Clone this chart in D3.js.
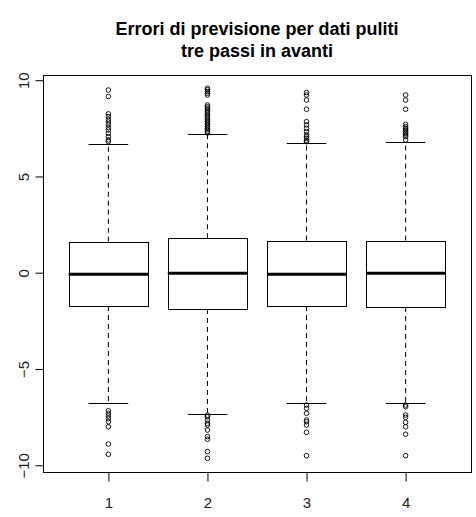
<!DOCTYPE html>
<html>
<head>
<meta charset="utf-8">
<script src="https://cdn.jsdelivr.net/npm/d3@7"></script>
<style>
  html, body { margin: 0; padding: 0; background: #fff; }
  svg { display: block; }
  text { font-family: "Liberation Sans", Arial, sans-serif; }
</style>
</head>
<body>
<svg id="chart" width="476" height="517"></svg>
<script>
// Forecast errors, three steps ahead, one box per model
const categories = ["1", "2", "3", "4"];
const q1 = [-1.73, -1.88, -1.73, -1.78];
const medians = [-0.08, -0.03, -0.08, -0.03];
const q3 = [1.61, 1.79, 1.67, 1.67];
const whiskerLow = [-6.78, -7.34, -6.78, -6.78];
const whiskerHigh = [6.67, 7.19, 6.72, 6.78];
const outliers = [
  [9.49, 9.15, 8.25, 8.11, 7.97, 7.83, 7.69, 7.55, 7.42, 7.24, 7.07, 6.90, 6.81,
   -7.17, -7.30, -7.44, -7.58, -7.74, -8.00, -8.90, -9.43],
  [9.58, 9.50, 9.41, 9.32, 9.23, 8.71, 8.62, 8.54, 8.45, 8.37, 8.28, 8.19, 8.10, 8.02,
   7.93, 7.85, 7.76, 7.68, 7.59, 7.50, 7.42, 7.33, 7.26,
   -7.40, -7.48, -7.65, -7.82, -7.91, -8.17, -8.51, -8.65, -9.29, -9.64],
  [9.36, 9.23, 8.97, 8.49, 7.85, 7.68, 7.50, 7.33, 7.16, 7.07, 6.98, 6.88, 6.81,
   -6.87, -7.04, -7.30, -7.65, -7.74, -7.91, -8.29, -9.50],
  [9.23, 8.97, 8.49, 7.71, 7.59, 7.50, 7.42, 7.33, 7.24, 7.16, 7.07, 6.90,
   -6.87, -6.96, -7.39, -7.51, -7.77, -8.00, -8.39, -9.50]
];
const yTicks = [-10, -5, 0, 5, 10];
const titleLines = ["Errori di previsione per dati puliti", "tre passi in avanti"];

const svg = d3.select("#chart");
const plot = { left: 43, right: 471, top: 75, bottom: 472 };

const x = d3.scaleLinear().domain([0.34, 4.66]).range([plot.left, plot.right]);
const y = d3.scaleLinear().domain([-10.35, 10.27]).range([plot.bottom, plot.top]);
const boxWidth = 0.8;   // in category units
const stapleWidth = 0.4;

// Title
svg.append("g").selectAll("text").data(titleLines).join("text")
  .attr("x", (plot.left + plot.right) / 2)
  .attr("y", (d, i) => 35 + i * 22)
  .attr("text-anchor", "middle")
  .attr("font-size", 18)
  .attr("font-weight", "bold")
  .attr("fill", "#000")
  .text(d => d);

const data = categories.map((c, i) => ({
  cat: c, pos: i + 1, q1: q1[i], med: medians[i], q3: q3[i],
  lo: whiskerLow[i], hi: whiskerHigh[i], out: outliers[i]
}));

const groups = svg.append("g").selectAll("g").data(data).join("g");

// Dashed whiskers
groups.append("line")
  .attr("x1", d => x(d.pos)).attr("x2", d => x(d.pos))
  .attr("y1", d => y(d.q3)).attr("y2", d => y(d.hi))
  .attr("stroke", "#000").attr("stroke-dasharray", "5,4");
groups.append("line")
  .attr("x1", d => x(d.pos)).attr("x2", d => x(d.pos))
  .attr("y1", d => y(d.q1)).attr("y2", d => y(d.lo))
  .attr("stroke", "#000").attr("stroke-dasharray", "5,4");

// Staples
["hi", "lo"].forEach(k => {
  groups.append("line")
    .attr("x1", d => x(d.pos - stapleWidth / 2)).attr("x2", d => x(d.pos + stapleWidth / 2))
    .attr("y1", d => Math.round(y(d[k])) + 0.5).attr("y2", d => Math.round(y(d[k])) + 0.5)
    .attr("stroke", "#000");
});

// Boxes
groups.append("rect")
  .attr("x", d => Math.round(x(d.pos - boxWidth / 2)) + 0.5)
  .attr("y", d => Math.round(y(d.q3)) + 0.5)
  .attr("width", d => Math.round(x(d.pos + boxWidth / 2)) - Math.round(x(d.pos - boxWidth / 2)))
  .attr("height", d => Math.round(y(d.q1)) - Math.round(y(d.q3)))
  .attr("fill", "#fff").attr("stroke", "#000");

// Medians
groups.append("line")
  .attr("x1", d => x(d.pos - boxWidth / 2)).attr("x2", d => x(d.pos + boxWidth / 2))
  .attr("y1", d => y(d.med)).attr("y2", d => y(d.med))
  .attr("stroke", "#000").attr("stroke-width", 3);

// Outliers
groups.selectAll("circle").data(d => d.out.map(v => ({ pos: d.pos, v }))).join("circle")
  .attr("cx", d => x(d.pos)).attr("cy", d => y(d.v))
  .attr("r", 2.3)
  .attr("fill", "none").attr("stroke", "#000").attr("stroke-width", 0.9);

// Frame
svg.append("rect")
  .attr("x", plot.left + 0.5).attr("y", plot.top + 0.5)
  .attr("width", plot.right - plot.left).attr("height", plot.bottom - plot.top)
  .attr("fill", "none").attr("stroke", "#000");

// Y axis
const yAxis = svg.append("g")
  .attr("transform", `translate(${plot.left + 0.5},0)`)
  .call(d3.axisLeft(y).tickValues(yTicks).tickSize(8).tickPadding(0).tickFormat(d3.format("d")));
yAxis.select(".domain").remove();
yAxis.selectAll(".tick line").attr("stroke", "#000");
yAxis.selectAll(".tick text")
  .attr("x", null).attr("dy", null)
  .attr("transform", "translate(-15,0) rotate(-90)")
  .attr("text-anchor", "middle")
  .attr("font-size", 15)
  .attr("font-family", "Liberation Sans, Arial, sans-serif")
  .attr("fill", "#222");

// X axis
const xAxis = svg.append("g")
  .attr("transform", `translate(0,${plot.bottom + 0.5})`)
  .call(d3.axisBottom(x).tickValues(data.map(d => d.pos)).tickSize(9).tickPadding(0)
    .tickFormat((d, i) => categories[i]));
xAxis.select(".domain").remove();
xAxis.selectAll(".tick line").attr("stroke", "#000");
xAxis.selectAll(".tick text")
  .attr("y", 35).attr("dy", null)
  .attr("font-size", 15)
  .attr("font-family", "Liberation Sans, Arial, sans-serif")
  .attr("fill", "#222");
</script>
</body>
</html>
